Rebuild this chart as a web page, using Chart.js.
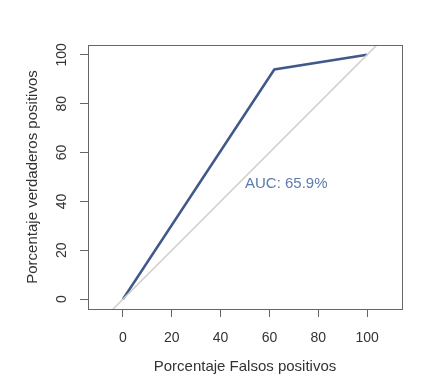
<!DOCTYPE html>
<html lang="es">
<head>
  <meta charset="UTF-8" />
  <title>Curva ROC</title>
  <script src="https://cdn.jsdelivr.net/npm/chart.js"></script>
  <style>
    html, body { margin: 0; padding: 0; background: #fff; }
    #wrap { width: 427px; height: 377px; }
  </style>
</head>
<body>
  <div id="wrap"><canvas id="rocChart" width="427" height="377"></canvas></div>

  <script>
    // ROC curve points (percent)
    const fpr = [0, 62, 100];
    const tpr = [0, 94, 100];
    // reference diagonal
    const diagX = [-20, 120];
    const diagY = [-20, 120];
    const xTicks = [0, 20, 40, 60, 80, 100];
    const yTicks = [0, 20, 40, 60, 80, 100];
    const aucLabel = 'AUC: 65.9%';
    const aucPos = { x: 50, y: 47 };

    const axisColor = '#666';
    const textColor = '#333';
    const font = 'Arial, "Liberation Sans", sans-serif';

    // box around the plot, rotated y labels and AUC text
    const rPlot = {
      id: 'rPlot',
      beforeDraw(chart) {
        const ctx = chart.ctx;
        ctx.save();
        ctx.fillStyle = '#fff';
        ctx.fillRect(0, 0, chart.width, chart.height);
        ctx.restore();
      },
      afterDraw(chart) {
        const { ctx, chartArea: a } = chart;
        const ys = chart.scales.y, xs = chart.scales.x;
        ctx.save();
        ctx.strokeStyle = axisColor;
        ctx.lineWidth = 1;
        ctx.strokeRect(a.left + 0.5, a.top + 0.5, a.right - a.left, a.bottom - a.top);

        ctx.fillStyle = textColor;
        ctx.font = '14px ' + font;
        ctx.textAlign = 'center';
        ctx.textBaseline = 'middle';
        yTicks.forEach(v => {
          ctx.save();
          ctx.translate(62, ys.getPixelForValue(v));
          ctx.rotate(-Math.PI / 2);
          ctx.fillText(String(v), 0, 0);
          ctx.restore();
        });

        ctx.fillStyle = '#5a7cb0';
        ctx.font = '15px ' + font;
        ctx.textAlign = 'left';
        ctx.fillText(aucLabel, xs.getPixelForValue(aucPos.x), ys.getPixelForValue(aucPos.y));
        ctx.restore();
      }
    };

    new Chart(document.getElementById('rocChart'), {
      type: 'scatter',
      data: {
        datasets: [
          {
            label: 'diagonal',
            data: diagX.map((x, i) => ({ x: x, y: diagY[i] })),
            showLine: true,
            borderColor: '#d3cdc6',
            borderWidth: 1.5,
            pointRadius: 0
          },
          {
            label: 'ROC',
            data: fpr.map((x, i) => ({ x: x, y: tpr[i] })),
            showLine: true,
            borderColor: '#40598a',
            borderWidth: 2.5,
            pointRadius: 0
          }
        ]
      },
      options: {
        responsive: false,
        animation: false,
        layout: { padding: { left: 0, top: 45, right: 25, bottom: 0 } },
        plugins: { legend: { display: false }, tooltip: { enabled: false } },
        scales: {
          x: {
            type: 'linear',
            min: -14.3,
            max: 114.3,
            afterBuildTicks: s => { s.ticks = xTicks.map(v => ({ value: v })); },
            afterFit: s => { s.height = 68; },
            grid: { drawOnChartArea: false, drawTicks: true, tickLength: 8, color: axisColor },
            border: { display: true, color: axisColor },
            ticks: { color: textColor, padding: 13, font: { size: 14, family: font }, maxRotation: 0 },
            title: {
              display: true,
              text: 'Porcentaje Falsos positivos',
              color: textColor,
              font: { size: 15, family: font },
              padding: { top: 0, bottom: 1 }
            }
          },
          y: {
            type: 'linear',
            min: -4,
            max: 104,
            afterBuildTicks: s => { s.ticks = yTicks.map(v => ({ value: v })); },
            afterFit: s => { s.width = 88; },
            grid: { drawOnChartArea: false, drawTicks: true, tickLength: 8, color: axisColor },
            border: { display: true, color: axisColor },
            ticks: { color: 'rgba(0,0,0,0)', font: { size: 14, family: font } },
            title: {
              display: true,
              text: 'Porcentaje verdaderos positivos',
              color: textColor,
              font: { size: 15, family: font },
              padding: { top: 24, bottom: 0 }
            }
          }
        }
      },
      plugins: [rPlot]
    });
  </script>
</body>
</html>
